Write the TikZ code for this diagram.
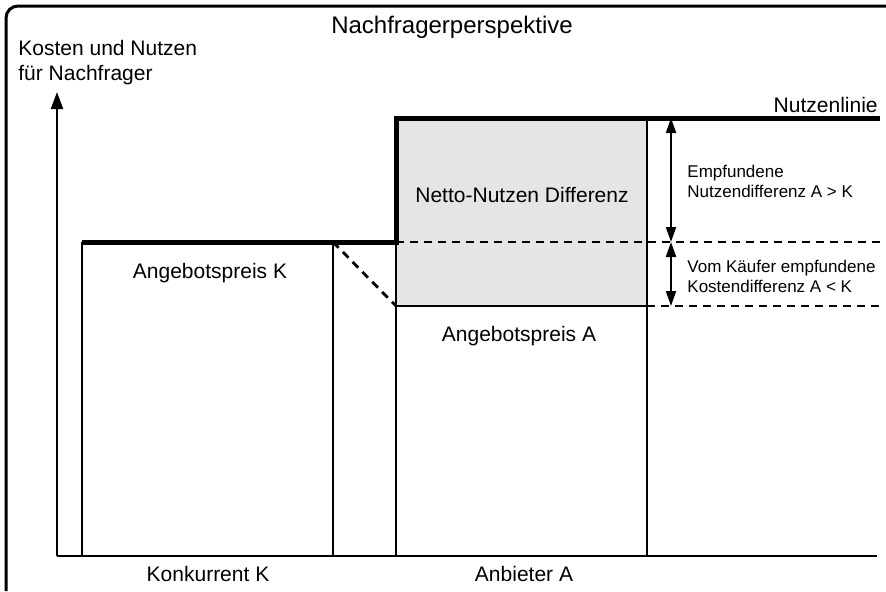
\documentclass[tikz,border=0pt]{standalone}
\usepackage{fontspec}
\setmainfont{Liberation Sans}
\usetikzlibrary{arrows.meta}

\begin{document}
\begin{tikzpicture}[x=0.5pt, y=-0.5pt,
    thickline/.style={line width=2.5pt},
    boxline/.style={line width=1.1pt},
    txt/.style={inner sep=0pt, font=\fontsize{10.5}{12.5}\selectfont},
    smalltxt/.style={inner sep=0pt, align=left, font=\fontsize{8.5}{10}\selectfont},
    diffarrow/.style={line width=1pt, {Triangle[length=7.5pt,width=5pt]}-{Triangle[length=7.5pt,width=5pt]}}]
  \useasboundingbox (0,0) rectangle (886,591);

  % frame
  \draw[line width=1.5pt, rounded corners=6pt] (6,591) -- (6,6) -- (886,6);

  \coordinate (O) at (57,556);
  \coordinate (Ytop) at (57,92);
  \coordinate (Xend) at (877,556);

  \coordinate (K1) at (82,242);
  \coordinate (K2) at (333,242);
  \coordinate (S1) at (396,242);
  \coordinate (S2) at (396,118);
  \coordinate (N) at (880,118);
  \coordinate (P1) at (396,306);
  \coordinate (P2) at (647,306);
  \coordinate (G) at (647,118);
  \coordinate (D1) at (880,242);
  \coordinate (D2) at (880,306);
  \coordinate (M1) at (671,118);
  \coordinate (M2) at (671,242);
  \coordinate (M3) at (671,306);

  % net benefit area
  \fill[black!10] (S2) rectangle (P2);

  % axes
  \draw[boxline, -{Triangle[length=8.5pt,width=6pt]}] (O) -- (Ytop);
  \draw[boxline] (O) -- (Xend);

  % boxes
  \draw[boxline] (K1) -- (K1 |- O);
  \draw[boxline] (K2) -- (K2 |- O);
  \draw[boxline] (S1) -- (S1 |- O);
  \draw[boxline] (P1) -- (P2);
  \draw[boxline] (G) -- (G |- O);

  % dashed guides
  \draw[line width=0.6pt, dash pattern=on 4pt off 3pt] (S1) -- (D1);
  \draw[line width=1pt, dash pattern=on 4pt off 3pt] (P2) -- (D2);
  \draw[line width=1.4pt, dash pattern=on 4pt off 3pt] (K2) -- (P1);

  % price and benefit lines
  \draw[thickline] (K1) -- (S1) -- (S2) -- (N);

  % differences
  \draw[diffarrow] (M1) -- (M2);
  \draw[diffarrow] (M2) -- (M3);

  % labels
  \node[txt, font=\fontsize{12}{14}\selectfont, anchor=base] (title) at (452,33) {Nachfragerperspektive};
  \node[txt, align=left, anchor=base west] (ylabel) at (18,80) {Kosten und Nutzen\\für Nachfrager};
  \node[txt, anchor=base east] (nlinie) at (878,112) {Nutzenlinie};
  \node[txt, anchor=base] (netto) at (522,202) {Netto-Nutzen Differenz};
  \node[txt, anchor=base] (preisK) at (210,278) {Angebotspreis K};
  \node[txt, anchor=base] (preisA) at (519,341) {Angebotspreis A};
  \node[smalltxt, anchor=base west] (nutzdiff) at (687,197) {Empfundene\\Nutzendifferenz A > K};
  \node[smalltxt, anchor=base west] (kostdiff) at (687,292) {Vom Käufer empfundene\\Kostendifferenz A < K};
  \node[txt, anchor=base] (konk) at (208,581) {Konkurrent K};
  \node[txt, anchor=base] (anb) at (524,581) {Anbieter A};
\end{tikzpicture}
\end{document}
